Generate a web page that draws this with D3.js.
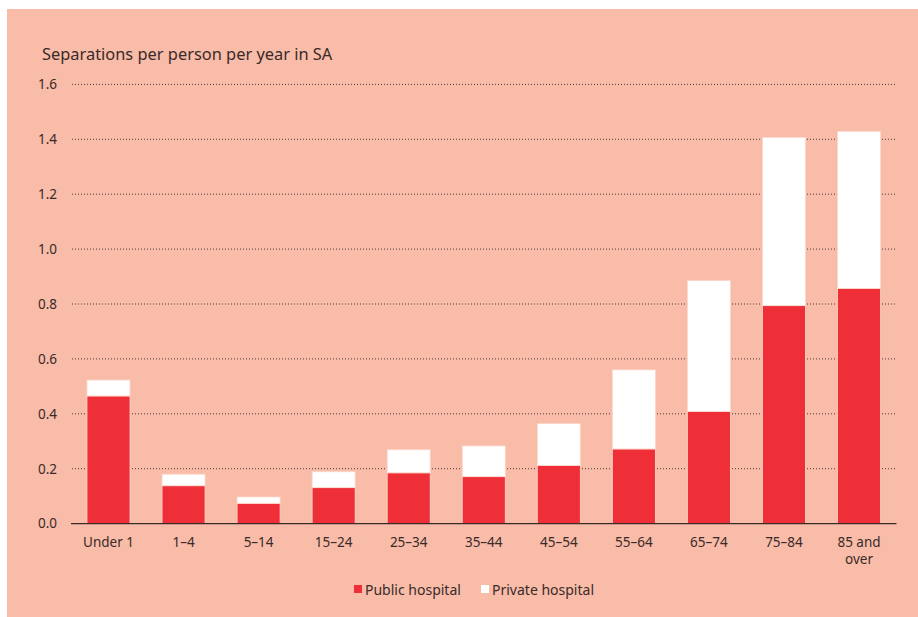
<!DOCTYPE html>
<html>
<head>
<meta charset="utf-8">
<script src="https://cdn.jsdelivr.net/npm/d3@7"></script>
<style>
  html, body { margin: 0; padding: 0; background: #ffffff; }
  svg { display: block; font-family: "Noto Sans", "Open Sans", sans-serif; }
</style>
</head>
<body>
<div id="chart"></div>
<script>
// Hospital separations per person per year in SA, by age group
const ageGroups = ["Under 1", "1\u20134", "5\u201314", "15\u201324", "25\u201334", "35\u201344",
                   "45\u201354", "55\u201364", "65\u201374", "75\u201384", "85 and over"];
const publicHospital  = [0.465, 0.138, 0.074, 0.131, 0.185, 0.171, 0.212, 0.272, 0.408, 0.794, 0.857];
const privateHospital = [0.058, 0.042, 0.023, 0.058, 0.084, 0.112, 0.152, 0.288, 0.477, 0.613, 0.572];
const yTicks = [0, 0.2, 0.4, 0.6, 0.8, 1.0, 1.2, 1.4, 1.6];
const seriesNames = ["Public hospital", "Private hospital"];
const seriesColors = ["#ee2f38", "#ffffff"];

const W = 918, H = 617;
const svg = d3.select("#chart").append("svg").attr("width", W).attr("height", H);

// panel background
svg.append("rect").attr("x", 7).attr("y", 9).attr("width", W - 7).attr("height", H - 9)
  .attr("fill", "#f8bca9");

const x = d3.scaleBand().domain(ageGroups).range([71, 896.5])
  .paddingInner(0.427).paddingOuter(0.213);
const y = d3.scaleLinear().domain([0, 1.6]).range([523.6, 84.4]);

const textColor = "#3a2a28";

// title
svg.append("text").attr("x", 42).attr("y", 60)
  .attr("font-size", 16.4).attr("fill", textColor)
  .text("Separations per person per year in SA");

// dotted gridlines
svg.append("g").selectAll("line").data(yTicks.filter(d => d > 0)).join("line")
  .attr("x1", 72).attr("x2", 896).attr("y1", d => y(d)).attr("y2", d => y(d))
  .attr("stroke", "#4a3a36").attr("stroke-width", 1).attr("stroke-dasharray", "1,2");

// y axis labels
const yAxis = d3.axisLeft(y).tickValues(yTicks).tickFormat(d3.format(".1f")).tickSize(0).tickPadding(0);
const gy = svg.append("g").attr("transform", "translate(57,0)").call(yAxis);
gy.select(".domain").remove();
gy.selectAll("text").attr("font-size", 13.5).attr("fill", textColor)
  .attr("font-family", "'Noto Sans', 'Open Sans', sans-serif");

// stacked bars
const rows = ageGroups.map((g, i) => ({ group: g, pub: publicHospital[i], priv: privateHospital[i] }));
const stack = d3.stack().keys(["pub", "priv"])(rows);
svg.append("g").selectAll("g").data(stack).join("g")
  .attr("fill", (d, i) => seriesColors[i])
  .selectAll("rect").data(d => d).join("rect")
  .attr("x", d => x(d.data.group))
  .attr("width", x.bandwidth())
  .attr("y", d => y(d[1]))
  .attr("height", d => y(d[0]) - y(d[1]))
  .attr("stroke", "#fcd6ca").attr("stroke-width", 0.8);

// baseline
svg.append("line").attr("x1", 71).attr("x2", 896.5).attr("y1", y(0)).attr("y2", y(0))
  .attr("stroke", "#3a2a28").attr("stroke-width", 1.3);

// x axis labels
const xl = svg.append("g").selectAll("text").data(ageGroups).join("text")
  .attr("x", d => x(d) + x.bandwidth() / 2)
  .attr("y", 547)
  .attr("text-anchor", "middle").attr("font-size", 13.5).attr("fill", textColor);
xl.each(function (d) {
  const t = d3.select(this);
  if (d === "85 and over") {
    t.append("tspan").attr("x", x(d) + x.bandwidth() / 2).text("85 and");
    t.append("tspan").attr("x", x(d) + x.bandwidth() / 2).attr("dy", 16.5).text("over");
  } else {
    t.text(d);
  }
});

// legend
const legendX = [354, 481];
const lg = svg.append("g").selectAll("g").data(seriesNames).join("g")
  .attr("transform", (d, i) => `translate(${legendX[i]},585)`);
lg.append("rect").attr("width", 8).attr("height", 8).attr("fill", (d, i) => seriesColors[i]);
lg.append("text").attr("x", 11).attr("y", 9.5).attr("font-size", 14).attr("fill", textColor)
  .text(d => d);
</script>
</body>
</html>
